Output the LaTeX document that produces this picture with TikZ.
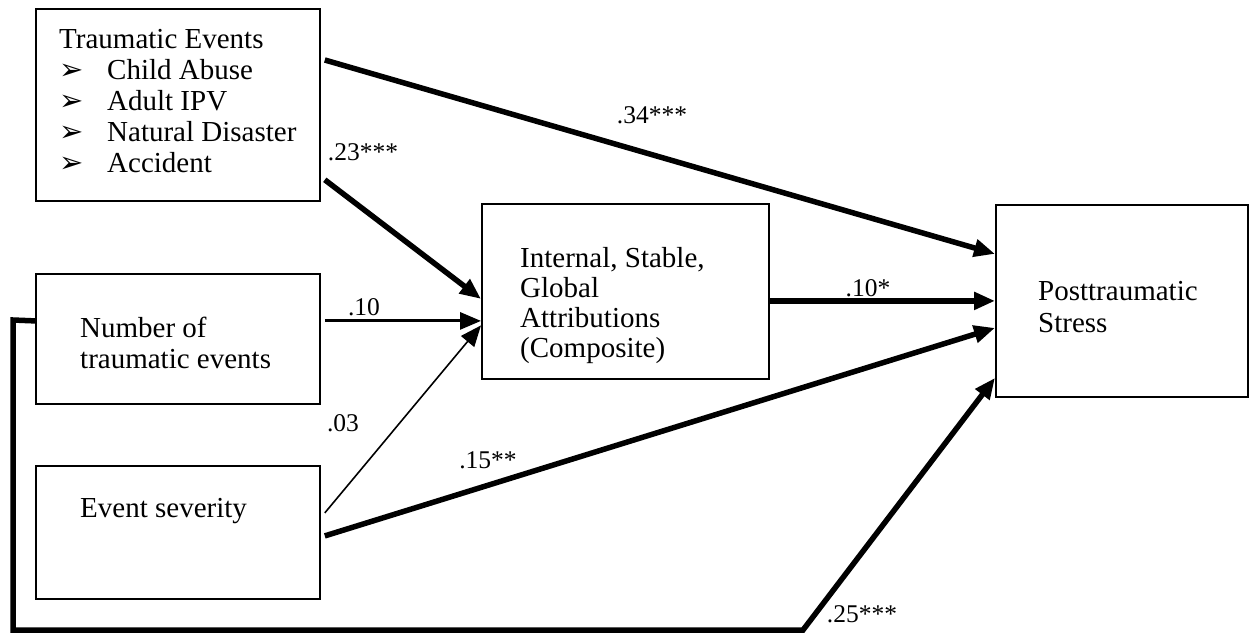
\documentclass[tikz,border=0pt]{standalone}
\usepackage{fontspec}
\setmainfont{Liberation Serif}
\newfontfamily\dejavu{DejaVu Sans}
\usetikzlibrary{arrows.meta}
\newcommand{\bul}{\makebox[48pt][l]{\dejavu\fontsize{29}{29}\selectfont ➢}}
\begin{document}
\begin{tikzpicture}[x=1pt,y=-1pt,
  box/.style={draw, line width=1.8pt, inner sep=0pt, anchor=north west},
  txt/.style={inner sep=0pt, anchor=base west, align=left, font=\fontsize{29}{31}\selectfont},
  lbl/.style={inner sep=0pt, anchor=base, font=\fontsize{25.5}{28}\selectfont},
  tip/.style={-{Triangle[length=21pt,width=17pt]}},
  heavy/.style={tip, line width=5.5pt},
  medium/.style={tip, line width=3pt},
  light/.style={tip, line width=1.6pt}
]
\useasboundingbox (0,0) rectangle (1249,635);

% boxes
\node[box, minimum width=284pt, minimum height=192pt] (te) at (35,8) {};
\node[box, minimum width=284pt, minimum height=130pt] (num) at (35,273) {};
\node[box, minimum width=284pt, minimum height=133pt] (sev) at (35,465) {};
\node[box, minimum width=287pt, minimum height=175pt] (attr) at (481,203) {};
\node[box, minimum width=252pt, minimum height=192pt] (pts) at (995,204) {};

% box texts (anchor = baseline of last line)
\node[txt, font=\fontsize{29}{31}\selectfont] (teT) at (59,172) {Traumatic Events\\\bul Child Abuse\\\bul Adult IPV\\\bul Natural Disaster\\\bul Accident};
\node[txt] (numT) at (80,368) {Number of\\traumatic events};
\node[txt] (sevT) at (80,517) {Event severity};
\node[txt, font=\fontsize{29}{29.7}\selectfont] (attrT) at (520,357) {Internal, Stable,\\Global\\Attributions\\(Composite)};
\node[txt, font=\fontsize{29}{32}\selectfont] (ptsT) at (1038,332) {Posttraumatic\\Stress};

% connectors
\draw[heavy] ([xshift=4pt,yshift=-52pt]te.north east) -- ([yshift=47pt]pts.west);
\draw[heavy] ([xshift=4pt,yshift=22pt]te.south east) -- ([yshift=-7.5pt]attr.west);
\draw[medium] ([xshift=4pt,yshift=18pt]num.east) -- ([yshift=-29.5pt]attr.west);
\draw[light] ([xshift=4pt,yshift=19.5pt]sev.east) -- ([yshift=-34pt]attr.west);
\draw[heavy] ([yshift=-9.5pt]attr.east) -- (pts.west);
\draw[heavy] ([xshift=4pt,yshift=-3.5pt]sev.east) -- ([yshift=-27pt]pts.west);
\coordinate (c1) at (13,320);
\coordinate (c2) at (13,630);
\coordinate (c3) at (803,630);
\draw[heavy, line join=miter] ([yshift=18pt]num.west) -- (c1) -- (c2) -- (c3) -- ([yshift=-77pt]pts.west);

% labels
\node[lbl] (l34) at (652,123) {.34***};
\node[lbl] (l23) at (363,160) {.23***};
\node[lbl] (l10) at (364,315) {.10};
\node[lbl] (l10s) at (868,296) {.10*};
\node[lbl] (l03) at (343,431) {.03};
\node[lbl] (l15) at (488,468) {.15**};
\node[lbl] (l25) at (862,622) {.25***};
\end{tikzpicture}
\end{document}
